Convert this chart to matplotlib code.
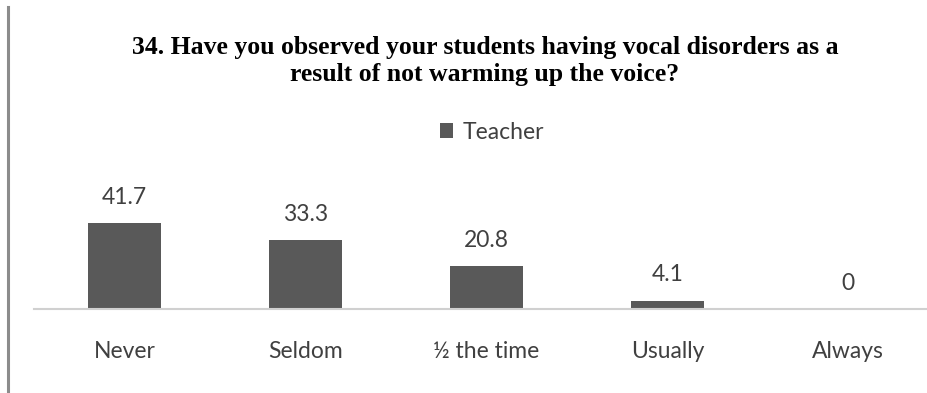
import matplotlib.pyplot as plt
from matplotlib.lines import Line2D

categories = ["Never", "Seldom", "\u00bd the time", "Usually", "Always"]
teacher = [41.7, 33.3, 20.8, 4.1, 0]
value_labels = ["41.7", "33.3", "20.8", "4.1", "0"]

W, H = 928, 393
fig = plt.figure(figsize=(W / 100, H / 100), dpi=100)

# plot area: baseline at y=309 px, categories spaced 180 px
base = (H - 309) / H
ax = fig.add_axes([34 / W, base, 1 - 34 / W, 130 / H])
x = range(len(categories))
bars = ax.bar(x, teacher, width=0.4, color="#595959", label="Teacher", zorder=2)
ax.set_xlim(-0.5, 4.44)
ax.set_ylim(0, 130 / 2.06)

for spine in ["top", "right", "left"]:
    ax.spines[spine].set_visible(False)
ax.spines["bottom"].set_color("#d0d0d0")
ax.spines["bottom"].set_linewidth(1.5)
ax.set_yticks([])
ax.set_xticks(list(x))
ax.set_xticklabels(categories, fontsize=16.5, family="Lato", color="#404040")
ax.tick_params(axis="x", length=0, pad=23)

for b, lab in zip(bars, value_labels):
    ax.annotate(lab, (b.get_x() + b.get_width() / 2, b.get_height()),
                xytext=(0, 11), textcoords="offset points", ha="center",
                va="bottom", fontsize=16.5, family="Lato", color="#404040")

fig.text(485 / W, (H - 61) / H,
         "34. Have you observed your students having vocal disorders as a\n"
         "result of not warming up the voice?",
         ha="center", va="center", fontsize=18.5, fontweight="bold",
         family="Liberation Serif", linespacing=1.2)

fig.legend(handles=[bars], labels=["Teacher"], loc="center",
           bbox_to_anchor=(0.530, (H - 132) / H), frameon=False,
           handlelength=0.6, handleheight=0.6, handletextpad=0.4,
           prop={"family": "Lato", "size": 16.5}, labelcolor="#404040")

# frame edge on the left
fig.add_artist(Line2D([7.5 / W, 7.5 / W], [0, (H - 7) / H], color="#8c8c8c", lw=2.2))

fig.savefig("out.png", dpi=100)
